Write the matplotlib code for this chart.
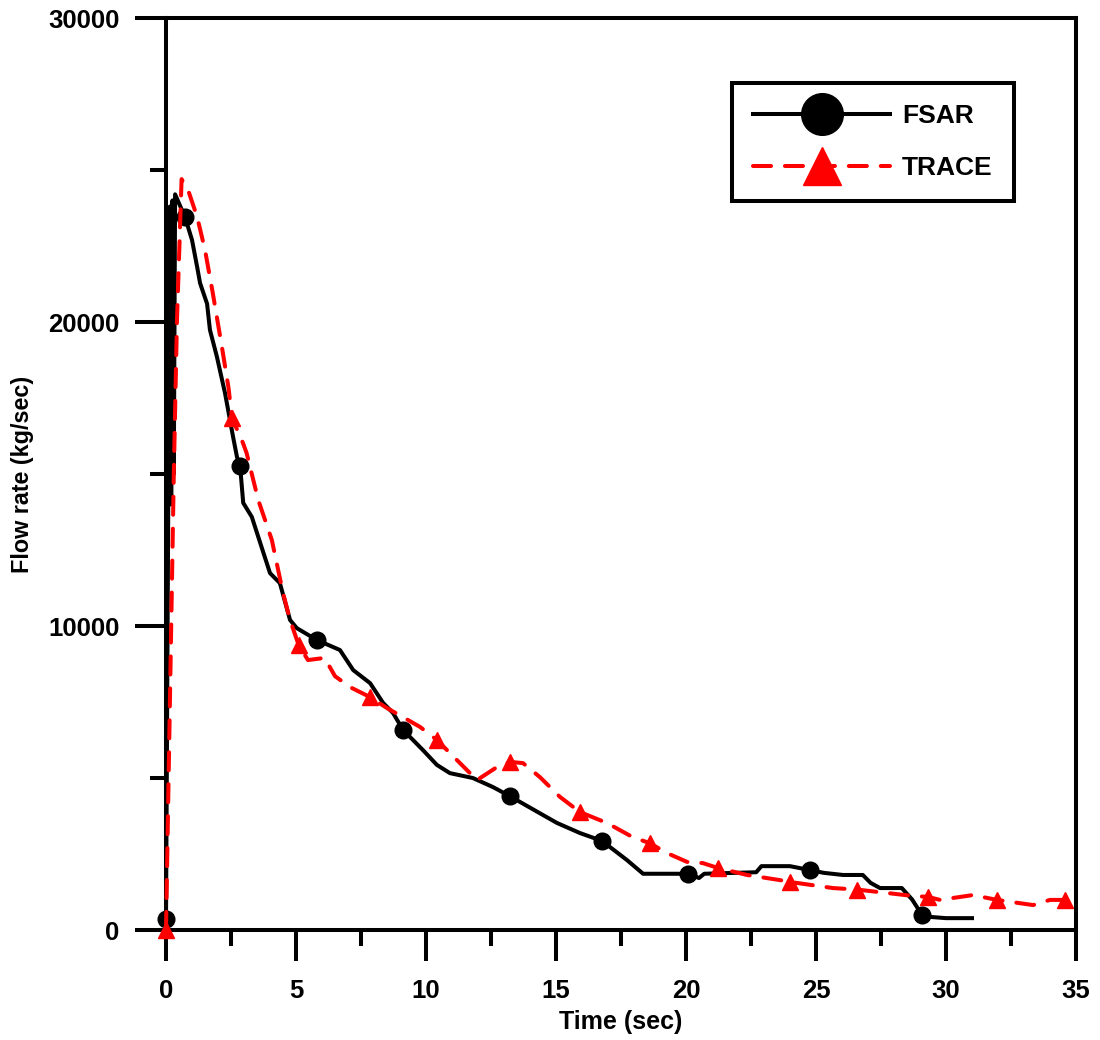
import numpy as np
import matplotlib
matplotlib.use("Agg")
import matplotlib.pyplot as plt
from matplotlib.ticker import MultipleLocator

plt.rcParams['font.family'] = ['Liberation Sans', 'DejaVu Sans']
plt.rcParams['font.weight'] = 'bold'
plt.rcParams['lines.scale_dashes'] = False

# ---- data ----
fsar_t = [0, 0.1, 0.15, 0.2, 0.25, 0.3, 0.35, 0.73, 1.0, 1.2, 1.31, 1.58, 1.69, 1.96,
          2.27, 2.58, 2.73, 2.85, 2.97, 3.3, 4.0, 4.38, 4.77, 5.03, 5.8, 6.69, 7.2,
          7.85, 8.35, 8.73, 9.12, 9.88, 10.42, 10.92, 11.8, 12.58, 13.23, 14.38,
          15.04, 15.92, 16.77, 17.73, 18.35, 20.08, 20.5, 20.7, 22.7, 22.9, 24.0,
          24.77, 25.3, 26.04, 26.8, 27.1, 27.46, 28.3, 28.7, 29.08, 29.4, 30.0, 31.0]
fsar_q = [350, 16000, 23800, 14000, 24000, 15000, 24200, 23450, 22700, 21800, 21280,
          20600, 19740, 18850, 17660, 16220, 15560, 15260, 14050, 13590, 11740, 11410,
          10200, 9930, 9540, 9210, 8550, 8120, 7470, 7140, 6580, 5920, 5430, 5160,
          5000, 4700, 4400, 3840, 3520, 3190, 2930, 2300, 1850, 1850, 1710, 1850,
          1900, 2100, 2100, 1970, 1880, 1810, 1810, 1550, 1380, 1380, 1000, 490, 430,
          390, 390]
fsar_marks = [0, 0.73, 2.85, 5.8, 9.12, 13.23, 16.77, 20.08, 24.77, 29.08]

trace_t = [0, 0.2, 0.3, 0.42, 0.6, 0.85, 1.2, 1.5, 1.8, 2.15, 2.4, 2.54, 2.96, 3.1,
           3.55, 4.07, 4.5, 4.77, 5.1, 5.46, 6.1, 6.5, 7.08, 7.85, 8.5, 9.12, 9.77,
           10.42, 11.19, 11.96, 12.73, 13.23, 13.73, 14.38, 15.15, 15.92, 16.96,
           17.96, 18.6, 19.27, 20.04, 20.65, 21.23, 22.35, 23.62, 24.0, 25.65, 26.58,
           28.73, 29.3, 29.77, 31.04, 31.96, 33.35, 34.0, 34.58]
trace_q = [0, 10000, 15000, 20000, 24700, 24340, 23450, 22370, 20950, 19180, 17860,
           16840, 16020, 15690, 14140, 12830, 11090, 10200, 9380, 8880, 8950, 8350,
           7990, 7660, 7300, 7000, 6680, 6250, 5590, 4930, 5360, 5530, 5490, 5030,
           4380, 3880, 3520, 3050, 2860, 2530, 2240, 2200, 2040, 1810, 1640, 1580,
           1380, 1330, 1120, 1090, 990, 1150, 990, 820, 990, 990]
trace_marks = [0, 2.54, 5.1, 7.85, 10.42, 13.23, 15.92, 18.6, 21.23, 24.0, 26.58,
               29.3, 31.96, 34.58]

series_labels = ['FSAR', 'TRACE']
x_label = 'Time (sec)'
y_label = 'Flow rate (kg/sec)'

# ---- figure ----
fig = plt.figure(figsize=(11, 10.4), dpi=100)
ax = fig.add_axes([166/1100, 1 - 930/1040, 910/1100, 912/1040])

f_idx = [int(np.argmin(np.abs(np.array(fsar_t) - m))) for m in fsar_marks]
t_idx = [int(np.argmin(np.abs(np.array(trace_t) - m))) for m in trace_marks]

l1, = ax.plot(fsar_t, fsar_q, color='black', lw=2.9, marker='o', ms=12,
              markevery=f_idx, label=series_labels[0], clip_on=False, zorder=3,
              solid_joinstyle='round')
l2, = ax.plot(trace_t, trace_q, color='#ff0000', lw=2.9, marker='^', ms=11,
              markevery=t_idx, label=series_labels[1], clip_on=False, zorder=4,
              dashes=(13, 10), dash_capstyle='round')

ax.set_xlim(0, 35)
ax.set_ylim(0, 30000)
ax.xaxis.set_major_locator(MultipleLocator(5))
ax.xaxis.set_minor_locator(MultipleLocator(2.5))
ax.yaxis.set_major_locator(MultipleLocator(10000))
ax.yaxis.set_minor_locator(MultipleLocator(5000))

for s in ax.spines.values():
    s.set_linewidth(2.9)
ax.tick_params(which='major', direction='out', length=22.5, width=2.9,
               labelsize=18.5)
ax.tick_params(axis='x', which='major', pad=13)
ax.tick_params(axis='y', which='major', pad=11)
ax.tick_params(which='minor', direction='out', length=11.5, width=2.9)
for lab in ax.get_xticklabels() + ax.get_yticklabels():
    lab.set_fontweight('bold')

ax.set_xlabel(x_label, fontsize=18, fontweight='bold', labelpad=4.5)
ax.set_ylabel(y_label, fontsize=16.8, fontweight='bold', labelpad=10)

leg = ax.legend(loc='upper left', bbox_to_anchor=(566/910, 1 - 65/912),
                borderaxespad=0, fontsize=19, handlelength=5.2,
                handletextpad=0.45, labelspacing=1.05, borderpad=0.8,
                fancybox=False, edgecolor='black', framealpha=1)
leg.get_frame().set_linewidth(2.9)
for h in leg.legend_handles:
    h.set_markersize(30 if h.get_marker() == 'o' else 27)
for t in leg.get_texts():
    t.set_fontweight('bold')

fig.savefig('out.png', dpi=100)
